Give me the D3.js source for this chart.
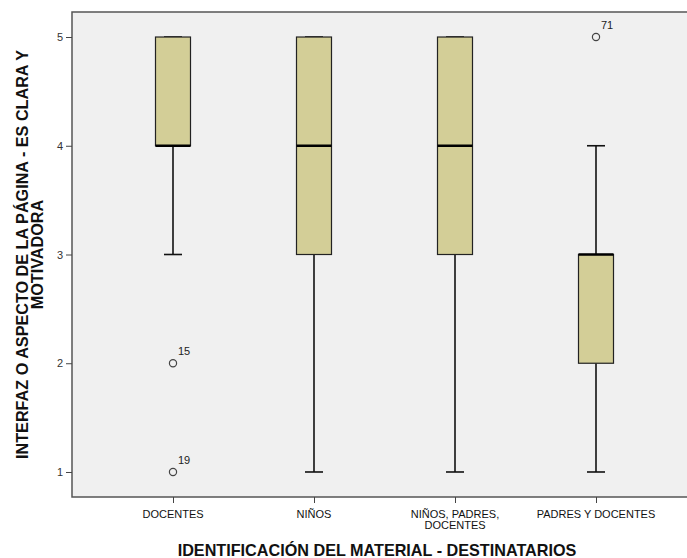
<!DOCTYPE html>
<html><head><meta charset="utf-8">
<script src="https://cdn.jsdelivr.net/npm/d3@7/dist/d3.min.js"></script>
<style>body{margin:0;background:#fff}svg{display:block;font-family:"Liberation Sans",Arial,sans-serif}</style>
</head><body>
<script>
const categories = ["DOCENTES", "NIÑOS", "NIÑOS, PADRES, DOCENTES", "PADRES Y DOCENTES"];
const categoryLabels = [["DOCENTES"], ["NIÑOS"], ["NIÑOS, PADRES,", "DOCENTES"], ["PADRES Y DOCENTES"]];
const whiskerLow = [3, 1, 1, 1];
const q1 = [4, 3, 3, 2];
const median = [4, 4, 4, 3];
const q3 = [5, 5, 5, 3];
const whiskerHigh = [5, 5, 5, 4];
const outlierCategory = ["DOCENTES", "DOCENTES", "PADRES Y DOCENTES"];
const outlierValue = [2, 1, 5];
const outlierLabel = ["15", "19", "71"];
const yTicks = [1, 2, 3, 4, 5];
const yTitle = ["INTERFAZ O ASPECTO DE LA PÁGINA - ES CLARA Y", "MOTIVADORA"];
const xTitle = "IDENTIFICACIÓN DEL MATERIAL - DESTINATARIOS";

const W = 687, H = 558;
const L = 72, T = 12, R = 697, B = 497;
const svg = d3.select("body").append("svg").attr("width", W).attr("height", H);

const x = d3.scalePoint().domain(categories).range([173, 596]);
const y = d3.scaleLinear().domain([0.77, 5.23]).range([B, T]);

svg.append("rect").attr("x", L).attr("y", T).attr("width", R - L).attr("height", B - T)
  .attr("fill", "#f0f0f0");

const boxW = 35, capW = 18;
const data = categories.map((c, i) => ({c, lo: whiskerLow[i], q1: q1[i], med: median[i], q3: q3[i], hi: whiskerHigh[i]}));
const g = svg.append("g");
data.forEach(d => {
  const cx = x(d.c);
  g.append("line").attr("x1", cx).attr("x2", cx).attr("y1", y(d.lo)).attr("y2", y(d.q1)).attr("stroke", "#111").attr("stroke-width", 1.6);
  g.append("line").attr("x1", cx).attr("x2", cx).attr("y1", y(d.q3)).attr("y2", y(d.hi)).attr("stroke", "#111").attr("stroke-width", 1.6);
  g.append("line").attr("x1", cx - capW/2).attr("x2", cx + capW/2).attr("y1", y(d.lo)).attr("y2", y(d.lo)).attr("stroke", "#111").attr("stroke-width", 1.6);
  g.append("line").attr("x1", cx - capW/2).attr("x2", cx + capW/2).attr("y1", y(d.hi)).attr("y2", y(d.hi)).attr("stroke", "#111").attr("stroke-width", 1.6);
  g.append("rect").attr("x", cx - boxW/2).attr("y", y(d.q3)).attr("width", boxW).attr("height", y(d.q1) - y(d.q3))
    .attr("fill", "#d3ce97").attr("stroke", "#222").attr("stroke-width", 1.2);
  g.append("line").attr("x1", cx - boxW/2).attr("x2", cx + boxW/2).attr("y1", y(d.med)).attr("y2", y(d.med)).attr("stroke", "#000").attr("stroke-width", 2.6);
});

outlierValue.forEach((v, i) => {
  const cx = x(outlierCategory[i]);
  g.append("circle").attr("cx", cx).attr("cy", y(v)).attr("r", 3.6).attr("fill", "none").attr("stroke", "#444").attr("stroke-width", 1.2);
  g.append("text").attr("x", cx + 5).attr("y", y(v) - 8).attr("font-size", 11).attr("fill", "#222").text(outlierLabel[i]);
});

svg.append("path").attr("d", `M${R},${T}H${L}V${B}H${R}`).attr("fill", "none").attr("stroke", "#555").attr("stroke-width", 1.5);

const ya = svg.append("g").attr("transform", `translate(${L},0)`)
  .call(d3.axisLeft(y).tickValues(yTicks).tickSize(6).tickFormat(d3.format("d")));
ya.select(".domain").remove();
ya.selectAll(".tick line").attr("stroke", "#444");
ya.selectAll(".tick text").attr("font-size", 11).attr("fill", "#333").attr("font-family", "Liberation Sans, Arial").attr("x", -9);

const xa = svg.append("g").attr("transform", `translate(0,${B})`)
  .call(d3.axisBottom(x).tickSize(6).tickFormat(""));
xa.select(".domain").remove();
xa.selectAll(".tick line").attr("stroke", "#444");
categories.forEach((c, i) => {
  const t = svg.append("text").attr("x", x(c)).attr("y", 518).attr("text-anchor", "middle")
    .attr("font-size", 11).attr("fill", "#111");
  categoryLabels[i].forEach((ln, j) => t.append("tspan").attr("x", x(c)).attr("dy", j ? 10.5 : 0).text(ln));
});

svg.append("text").attr("x", 377).attr("y", 556).attr("text-anchor", "middle")
  .attr("font-size", 16.2).attr("font-weight", "bold").attr("fill", "#111").text(xTitle);
const yt = svg.append("text").attr("transform", `translate(28,${(T + B) / 2}) rotate(-90)`)
  .attr("text-anchor", "middle").attr("font-size", 16.2).attr("font-weight", "bold").attr("fill", "#111");
yTitle.forEach((ln, j) => yt.append("tspan").attr("x", 0).attr("dy", j ? 14.5 : 0).text(ln));
</script>
</body></html>
